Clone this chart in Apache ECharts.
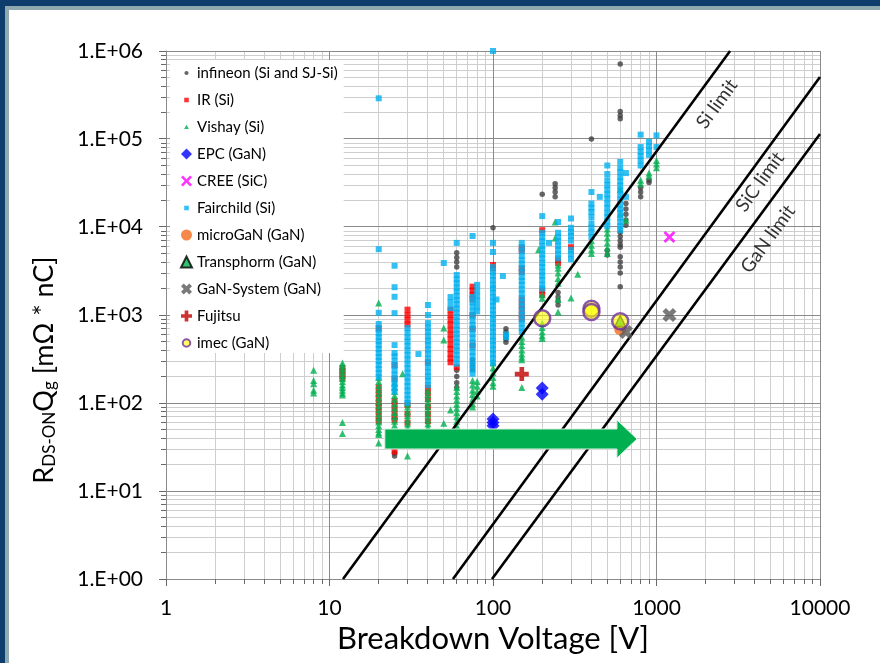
<!DOCTYPE html>
<html>
<head>
<meta charset="utf-8">
<title>Figure of merit vs breakdown voltage</title>
<script src="https://cdn.jsdelivr.net/npm/echarts@6/dist/echarts.min.js"></script>
<style>
  html, body { margin: 0; padding: 0; }
  #frame { position: absolute; left: 0; top: 0; width: 880px; height: 663px; background: #0e3c6d; overflow: hidden; }
  #band { position: absolute; left: 5px; top: 6px; right: 0; bottom: 0; background: #8fa9ae; }
  #panel { position: absolute; left: 9px; top: 10px; right: 0; bottom: 0; background: #ffffff; }
  #chart { position: absolute; left: 0; top: 0; width: 880px; height: 663px; }
</style>
</head>
<body>
<div id="frame"><div id="band"></div><div id="panel"></div><div id="chart"></div></div>
<script>
// Each entry: [breakdown voltage in V, [RDS(on)*Qg values in mOhm*nC]]
const infineon = [
  [25, [27, 25]],
  [60, [5100, 4500, 4000, 3500, 235, 200, 170, 150]],
  [75, [310, 270, 240]],
  [100, [9800]],
  [120, [700, 640, 580, 530, 490]],
  [200, [23500]],
  [240, [31000, 28000, 25000, 22000]],
  [250, [1800, 1600, 1450, 1300]],
  [400, [100000]],
  [500, [5400, 4800]],
  [600, [710000, 205000, 185000, 170000, 8700, 7800, 7000, 6300, 5900, 4600, 4000, 3500, 3000, 2100]],
  [650, [18500, 16000, 14000, 12000, 10500]],
  [800, [28000, 25000, 22000]],
  [900, [34000, 32000]]
];

const ir = [
  [12, [250, 230, 210, 190]],
  [20, [710, 150, 130, 115, 100, 90, 80, 70, 62]],
  [25, [270, 190, 105, 92, 80, 70, 64, 28]],
  [30, [1150, 1000, 880, 780, 95, 75, 60]],
  [40, [290, 150, 130, 110, 90, 75, 62]],
  [55, [1150, 1000, 880, 780, 680, 600, 530, 460, 410, 360, 320, 290]],
  [60, [255]],
  [75, [2100, 1900, 1700, 1500, 1000, 700, 450]],
  [100, [3700, 3400]],
  [150, [5800, 5400, 3400, 3100, 1500, 1300, 1150, 1000, 900]],
  [200, [9200, 1900, 1700]],
  [250, [4200, 3900]],
  [300, [5900]]
];

const vishay = [
  [8, [235, 180, 165, 140, 130]],
  [12, [285, 265, 245, 225, 205, 190, 175, 160, 150, 140, 130, 123, 60, 45]],
  [20, [1370, 195, 175, 158, 142, 128, 115, 103, 93, 84, 75, 68, 61, 55, 50, 46, 44, 35]],
  [25, [170, 150, 135, 122, 110, 98, 88, 78, 70, 62, 56]],
  [28, [215]],
  [30, [100, 90, 80, 72, 65, 58, 53, 25]],
  [40, [140, 125, 112, 100, 90, 81, 73, 65, 58, 53]],
  [50, [710, 520, 59]],
  [55, [83]],
  [60, [150, 135, 120, 108, 97, 87, 78, 70, 62, 55]],
  [75, [180, 160, 140, 125, 110, 98, 90]],
  [80, [175, 155, 135, 120]],
  [100, [285, 250, 220, 195, 170, 155]],
  [150, [560, 500, 450, 400, 360, 330, 310, 150]],
  [190, [5500]],
  [200, [1700, 1550, 800, 720, 640, 580, 540]],
  [240, [11400, 7500]],
  [250, [3700, 3400, 3000, 2600, 2300, 1500, 1080]],
  [300, [1560]],
  [330, [2900]],
  [400, [7000, 6200, 5500, 5000]],
  [500, [9500, 8500, 7500, 6600, 5800, 5000]],
  [600, [27000, 14000]],
  [650, [12000]],
  [800, [34000, 31000]],
  [900, [41000, 38000]],
  [1000, [57000, 52000, 47000]]
];

const epc = [
  [100, [66, 60, 55]],
  [200, [148, 126]]
];

const cree = [
  [1200, [7700]]
];

const fairchild = [
  [20, [290000, 5600, 1060, 790, 690, 620, 560, 505, 455, 410, 370, 333, 300, 270, 243, 219, 197]],
  [25, [3630, 2070, 1610, 1050, 455, 370, 340, 300, 265, 235, 210, 185, 165, 150, 135]],
  [30, [710, 630, 560, 500, 445, 395, 350, 312, 278, 247, 220, 196, 174, 155, 138, 123, 110, 100]],
  [35, [360]],
  [40, [1300, 1000, 810, 720, 640, 570, 510, 455, 405, 360, 320, 285, 255, 225, 200, 180, 160]],
  [50, [3900]],
  [55, [1600, 1400, 1200]],
  [60, [6600, 2850, 2550, 2300, 2050, 1850, 1650, 1480, 1320, 1180, 1060, 950, 850, 760, 680, 610, 545, 490, 440, 395, 350, 315, 280]],
  [75, [7900, 1600, 1400, 1250, 1100, 980, 870, 770, 690, 610, 545, 485, 430, 380, 340, 300, 270, 240, 215]],
  [80, [2200, 1900, 1650, 1450, 1250, 1100]],
  [100, [1000000, 6600, 5200, 3500, 3100, 2800, 2500, 2200, 2000, 1800, 1600, 1420, 1270, 1130, 1010, 900, 800, 720, 640, 570, 510, 455, 405, 360, 320, 285]],
  [105, [1500]],
  [115, [2770]],
  [120, [600, 560]],
  [150, [6600, 5900, 5300, 4700, 4200, 3800, 3400, 3050, 2700, 2450, 2200, 1950, 1750, 1560, 1400, 1250, 1120, 1000, 890, 800, 710, 640]],
  [200, [13300, 8600, 7700, 6900, 6100, 5500, 4900, 4400, 3900, 3500, 3100, 2800, 2500, 2200, 2000]],
  [220, [6600]],
  [250, [11400, 8600, 7700, 6900, 6100, 5500, 4900, 4400]],
  [300, [12500, 9800, 8800, 7900, 7000, 5500, 4900, 4300]],
  [400, [25000, 18500, 16500, 14800, 13000, 11000, 9800, 8700, 7700]],
  [450, [22000]],
  [500, [50000, 40000, 34000, 30000, 26500, 23500, 21000, 18500, 16500, 14500, 13000, 11500, 10200]],
  [600, [55000, 47000, 42000, 37000, 33000, 29500, 26000, 23000, 20500, 18000, 16000, 14500, 12800, 11400, 10200, 9200]],
  [650, [41000, 22000]],
  [800, [112000, 81000, 72000, 64000, 57000, 50000]],
  [900, [93000, 83000, 74000, 66000]],
  [1000, [110000, 81000]]
];

const microGaN = [[600, [690]]];
const transphorm = [[600, [850]]];
const ganSystems = [[650, [640]], [1200, [1000]]];
const fujitsu = [[150, [213]]];
const imec = [[200, [920]], [400, [1180, 1080]], [600, [850]]];

// Material limit lines (end points on the plot border)
const siLimit = [[12.1, 1], [2818, 1000000]];
const sicLimit = [[56.9, 1], [10000, 507000]];
const ganLimit = [[98.6, 1], [10000, 114000]];
const limitLabels = [[2345, 250000, 'Si limit'], [4295, 32500, 'SiC limit'], [4808, 7300, 'GaN limit']];

// Trend arrow: tail voltage, head base voltage, tip voltage, level
const arrowSpan = [21.8, 573, 760, 39];

const xRange = [1, 10000];
const yRange = [1, 1000000];
const xTickLabels = ['1', '10', '100', '1000', '10000'];
const yTickLabels = ['1.E+00', '1.E+01', '1.E+02', '1.E+03', '1.E+04', '1.E+05', '1.E+06'];

const FONT = 'Lato, "Open Sans", sans-serif';
const toPoints = groups => groups.flatMap(([v, qs]) => qs.map(q => [v, q]));

const X_THIN = 'path://M2 0L6 4L10 0L12 2L8 6L12 10L10 12L6 8L2 12L0 10L4 6L0 2Z';
const X_BOLD = 'path://M3 0L6 3L9 0L12 3L9 6L12 9L9 12L6 9L3 12L0 9L3 6L0 3Z';
const PLUS = 'path://M4 0H8V4H12V8H8V12H4V8H0V4H4Z';
const DIAMOND = 'path://M6 0L12 6L6 12L0 6Z';
const ICON_DOT = 'path://M0 0M12 12M3.7 6A2.3 2.3 0 1 0 8.3 6A2.3 2.3 0 1 0 3.7 6Z';
const ICON_SQ = 'path://M0 0M12 12M3.5 3.5H8.5V8.5H3.5Z';
const ICON_TRI = 'path://M0 0M12 12M6 3.6L8.7 8.2H3.3Z';
const ICON_RING = 'path://M0 0M12 12M1.9 6A4.1 4.1 0 1 0 10.1 6A4.1 4.1 0 1 0 1.9 6Z';

function scatter(name, groups, symbol, size, itemStyle, z) {
  return {
    type: 'scatter', name, data: toPoints(groups), symbol, symbolSize: size,
    itemStyle, z: z || 2, silent: true, animation: false
  };
}

function limitLine(data) {
  return {
    type: 'line', data, symbol: 'none', silent: true, animation: false, z: 3,
    lineStyle: { color: '#000000', width: 2.6 }
  };
}

// Log-decade grid: light minor lines at 2..9, darker decade lines, outside ticks
function renderGrid(params, api) {
  const minorC = '#cecece', majorC = '#8a8a8a', tickC = '#6a6a6a';
  const crisp = v => Math.round(v - 0.5) + 0.5;
  const bl = api.coord([xRange[0], yRange[0]]);
  const tr = api.coord([xRange[1], yRange[1]]);
  const minor = [], major = [], ticks = [];
  const seg = (arr, a, b, c, d, color) => arr.push({
    type: 'line', shape: { x1: a, y1: b, x2: c, y2: d }, style: { stroke: color, lineWidth: 1 }, silent: true
  });
  for (let e = 0; e <= 4; e++) {
    for (let k = 1; k <= 9; k++) {
      const v = k * Math.pow(10, e);
      if (v > xRange[1]) break;
      const x = crisp(api.coord([v, yRange[0]])[0]);
      if (k === 1) { seg(major, x, bl[1], x, tr[1], majorC); seg(ticks, x, bl[1], x, bl[1] + 7, tickC); }
      else { seg(minor, x, bl[1], x, tr[1], minorC); seg(ticks, x, bl[1], x, bl[1] + 5, tickC); }
    }
  }
  for (let e = 0; e <= 6; e++) {
    for (let k = 1; k <= 9; k++) {
      const v = k * Math.pow(10, e);
      if (v > yRange[1]) break;
      const y = crisp(api.coord([xRange[0], v])[1]);
      if (k === 1) { seg(major, bl[0], y, tr[0], y, majorC); seg(ticks, bl[0] - 7, y, bl[0], y, tickC); }
      else { seg(minor, bl[0], y, tr[0], y, minorC); seg(ticks, bl[0] - 5, y, bl[0], y, tickC); }
    }
  }
  return { type: 'group', children: minor.concat(major, ticks) };
}

function renderArrow(params, api) {
  const lvl = api.value(3);
  const p0 = api.coord([api.value(0), lvl]);
  const p1 = api.coord([api.value(1), lvl]);
  const p2 = api.coord([api.value(2), lvl]);
  const body = 10, head = 19;
  return {
    type: 'polygon',
    shape: { points: [
      [p0[0], p0[1] - body], [p1[0], p1[1] - body], [p1[0], p1[1] - head],
      [p2[0], p2[1]], [p1[0], p1[1] + head], [p1[0], p1[1] + body], [p0[0], p0[1] + body]
    ] },
    style: { fill: '#00b050', stroke: '#d8efe0', lineWidth: 1 }
  };
}

const chart = echarts.init(document.getElementById('chart'), null, { renderer: 'canvas' });

chart.setOption({
  animation: false,
  backgroundColor: 'transparent',
  textStyle: { fontFamily: FONT },
  grid: { left: 166, right: 60, top: 51, bottom: 84 },
  xAxis: {
    type: 'log', logBase: 10, min: xRange[0], max: xRange[1], splitNumber: 4,
    axisLine: { show: true, onZero: false, lineStyle: { color: '#7a7a7a', width: 1 } },
    axisTick: { show: false },
    splitLine: { show: false },
    axisLabel: {
      formatter: v => xTickLabels[Math.round(Math.log10(v))],
      fontSize: 21, color: '#000', margin: 19, fontFamily: FONT
    },
    name: 'Breakdown Voltage [V]', nameLocation: 'middle', nameGap: 43,
    nameTextStyle: { fontSize: 31, color: '#000', fontFamily: FONT }
  },
  yAxis: {
    type: 'log', logBase: 10, min: yRange[0], max: yRange[1], splitNumber: 6,
    axisLine: { show: true, onZero: false, lineStyle: { color: '#7a7a7a', width: 1 } },
    axisTick: { show: false },
    splitLine: { show: false },
    axisLabel: {
      formatter: v => yTickLabels[Math.round(Math.log10(v))],
      fontSize: 21, color: '#000', margin: 23, fontFamily: FONT
    },
    name: '{a|R}{s|DS-ON}{a|Q}{s|g}{a| [mΩ * nC]}',
    nameLocation: 'middle', nameGap: 108,
    nameTextStyle: {
      fontSize: 27, color: '#000', fontFamily: FONT, padding: [0, 110, 0, 0],
      rich: {
        a: { fontSize: 27, color: '#000', fontFamily: FONT },
        s: { fontSize: 17, color: '#000', fontFamily: FONT, verticalAlign: 'bottom', lineHeight: 8 }
      }
    }
  },
  legend: {
    orient: 'vertical', left: 170, top: 60,
    backgroundColor: '#ffffff', padding: [4, 6, 1, 10],
    itemWidth: 11, itemHeight: 11, itemGap: 9, selectedMode: false,
    textStyle: { fontSize: 15, color: '#000', fontFamily: FONT, lineHeight: 18 },
    data: [
      { name: 'infineon (Si and SJ-Si)', icon: ICON_DOT },
      { name: 'IR (Si)', icon: ICON_SQ },
      { name: 'Vishay (Si)', icon: ICON_TRI },
      { name: 'EPC (GaN)', icon: DIAMOND },
      { name: 'CREE (SiC)', icon: X_THIN },
      { name: 'Fairchild (Si)', icon: ICON_SQ },
      { name: 'microGaN (GaN)', icon: 'circle' },
      { name: 'Transphorm (GaN)', icon: 'triangle' },
      { name: 'GaN-System (GaN)', icon: X_BOLD },
      { name: 'Fujitsu', icon: PLUS },
      { name: 'imec (GaN)', icon: ICON_RING }
    ]
  },
  series: [
    {
      type: 'custom', name: 'grid', data: [[xRange[0], yRange[0]]], renderItem: renderGrid,
      silent: true, clip: false, z: 1, animation: false
    },
    scatter('infineon (Si and SJ-Si)', infineon, 'circle', 5.5, { color: '#404040' }),
    scatter('IR (Si)', ir, 'rect', 6, { color: '#ff0000' }),
    scatter('Vishay (Si)', vishay, 'triangle', 7, { color: '#00b050' }),
    scatter('Fairchild (Si)', fairchild, 'rect', 6, { color: '#00b0f0' }),
    limitLine(siLimit),
    limitLine(sicLimit),
    limitLine(ganLimit),
    {
      type: 'scatter', name: 'limits', data: limitLabels, symbolSize: 1, silent: true, z: 3,
      itemStyle: { color: 'transparent' },
      label: {
        show: true, position: 'inside', formatter: p => p.value[2], rotate: 54,
        fontSize: 19, color: '#000', fontFamily: FONT
      }
    },
    scatter('EPC (GaN)', epc, DIAMOND, 13, { color: '#0000ff' }, 4),
    scatter('CREE (SiC)', cree, X_THIN, 12, { color: '#ff00ff' }, 4),
    scatter('microGaN (GaN)', microGaN, 'circle', 12, { color: '#f26b1d' }, 4),
    scatter('Transphorm (GaN)', transphorm, 'triangle', 11, { color: '#00b050', borderColor: '#000', borderWidth: 1.5 }, 4),
    scatter('GaN-System (GaN)', ganSystems, X_BOLD, 14, { color: '#595959' }, 4),
    scatter('Fujitsu', fujitsu, PLUS, 14, { color: '#c00000' }, 4),
    scatter('imec (GaN)', imec, 'circle', 16, { color: 'rgba(255,255,0,0.75)', borderColor: '#7030a0', borderWidth: 2.5 }, 4),
    {
      type: 'custom', name: 'trend', data: [arrowSpan], encode: { x: [0, 1, 2], y: 3 },
      renderItem: renderArrow, silent: true, clip: false, z: 6, animation: false
    }
  ]
});
</script>
</body>
</html>
